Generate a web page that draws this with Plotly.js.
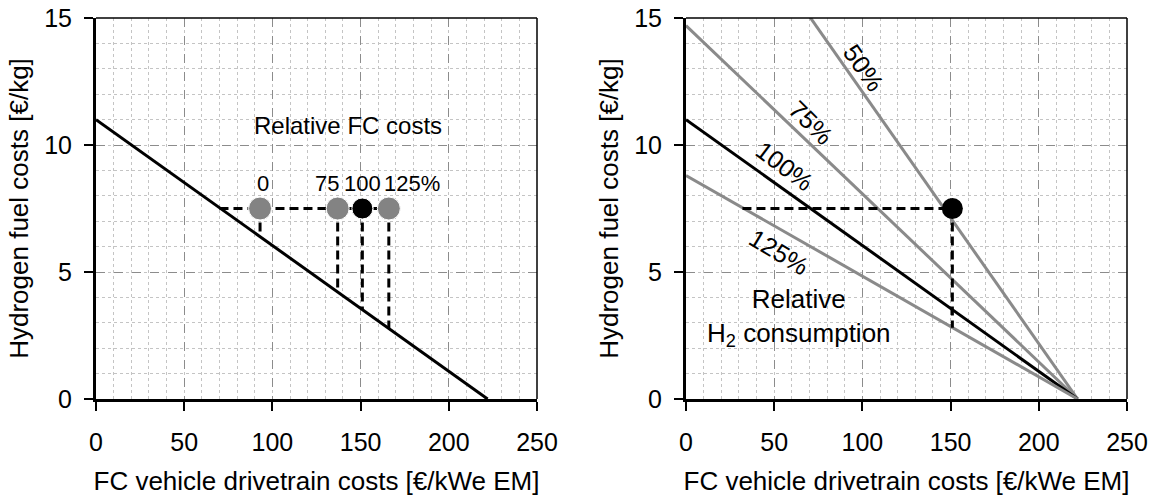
<!DOCTYPE html>
<html>
<head>
<meta charset="utf-8">
<script src="https://cdn.plot.ly/plotly-3.0.1.min.js"></script>
<style>
  html, body { margin: 0; padding: 0; background: #fff; }
  #chart { width: 1158px; height: 502px; }
</style>
</head>
<body>
<div id="chart"></div>
<script>
// ---------- data ----------
// Left panel: break-even line (hydrogen cost vs. drivetrain cost)
const baseLineX = [0, 222];
const baseLineY = [11, 0];
// Relative FC cost points (at H2 cost 7.5 €/kg)
const fcCostLabels = ["0", "75", "100", "125%"];
const fcCostX = [93, 137, 151, 166];
const fcCostY = [7.5, 7.5, 7.5, 7.5];
const fcCostLineY = [6.39, 4.21, 3.52, 2.77];   // where each drop line meets the break-even line
const fcRefLineX = [70, 166];
const fcRefLineY = [7.5, 7.5];

// Right panel: relative H2 consumption lines
const consLabels = ["50%", "75%", "100%", "125%"];
const consStartY = [22, 14.7, 11, 8.8];   // value at 0 €/kWe
const consEndX = [222, 222, 222, 222];    // all meet 0 €/kg here
const consColors = ["#8a8a8a", "#8a8a8a", "#000000", "#8a8a8a"];
const rightPointX = [151];
const rightPointY = [7.5];
const rightRefLineX = [32, 151];
const rightDropY = [7.5, 2.81];

const xTicks = [0, 50, 100, 150, 200, 250];
const yTicks = [0, 5, 10, 15];

// ---------- styling ----------
const FONT = 'Arial, "Liberation Sans", sans-serif';
const dashBlack = { color: "#000", width: 3, dash: "9px,5px" };
const traces = [];

// Left panel
traces.push({ x: fcRefLineX, y: fcRefLineY, xaxis: "x", yaxis: "y", mode: "lines", line: dashBlack, hoverinfo: "skip" });
for (let i = 0; i < fcCostX.length; i++) {
  traces.push({ x: [fcCostX[i], fcCostX[i]], y: [fcCostY[i], fcCostLineY[i]], xaxis: "x", yaxis: "y",
    mode: "lines", line: dashBlack, hoverinfo: "skip" });
}
traces.push({ x: baseLineX, y: baseLineY, xaxis: "x", yaxis: "y", mode: "lines",
  line: { color: "#000", width: 3 } });
traces.push({ x: fcCostX, y: fcCostY, xaxis: "x", yaxis: "y", mode: "markers",
  marker: { size: [23, 23, 21, 23], opacity: 1, color: ["#838383", "#838383", "#000000", "#838383"] } });

// Right panel
for (let i = 0; i < consLabels.length; i++) {
  traces.push({ x: [0, consEndX[i]], y: [consStartY[i], 0], xaxis: "x2", yaxis: "y2", mode: "lines",
    line: { color: consColors[i], width: 3 } });
}
traces.push({ x: rightRefLineX, y: [rightPointY[0], rightPointY[0]], xaxis: "x2", yaxis: "y2", mode: "lines", line: dashBlack });
traces.push({ x: [rightPointX[0], rightPointX[0]], y: rightDropY, xaxis: "x2", yaxis: "y2", mode: "lines", line: dashBlack });
traces.push({ x: rightPointX, y: rightPointY, xaxis: "x2", yaxis: "y2", mode: "markers",
  marker: { size: 21, opacity: 1, color: "#000" } });

function xAxis(domain) {
  return {
    domain: domain, range: [0, 250], tickvals: xTicks, ticks: "outside", ticklen: 9, tickwidth: 2, tickcolor: "#000",
    showline: true, linewidth: 3, linecolor: "#000", zeroline: false,
    showgrid: true, gridcolor: "#8c8c8c", gridwidth: 1, griddash: "dash",
    minor: { dtick: 10, showgrid: true, gridcolor: "#c4c4c4", gridwidth: 1, griddash: "dot", ticks: "" },
    tickfont: { family: FONT, size: 25, color: "#000" }, ticklabelstandoff: 10,
    title: { text: "FC vehicle drivetrain costs [€/kWe EM]", font: { family: FONT, size: 26, color: "#000" }, standoff: 17 },
    automargin: false, fixedrange: true
  };
}
function yAxis(anchor) {
  return {
    domain: [0, 1], range: [0, 15], tickvals: yTicks, anchor: anchor, ticks: "outside", ticklen: 9, tickwidth: 2, tickcolor: "#000",
    showline: true, linewidth: 3, linecolor: "#000", zeroline: false,
    showgrid: true, gridcolor: "#8c8c8c", gridwidth: 1, griddash: "dash",
    minor: { dtick: 1, showgrid: true, gridcolor: "#c4c4c4", gridwidth: 1, griddash: "dot", ticks: "" },
    tickfont: { family: FONT, size: 25, color: "#000" }, ticklabelstandoff: 7,
    title: { text: "Hydrogen fuel costs [€/kg]", font: { family: FONT, size: 26, color: "#000" }, standoff: 9 },
    automargin: false, fixedrange: true
  };
}

const frame = (xr, yr) => [
  { type: "line", xref: xr + " domain", yref: yr + " domain", x0: 0, x1: 1, y0: 1, y1: 1, line: { color: "#000", width: 1.5 } },
  { type: "line", xref: xr + " domain", yref: yr + " domain", x0: 1, x1: 1, y0: 0, y1: 1, line: { color: "#000", width: 1.5 } }
];

const ann = (xref, yref, x, y, text, extra, size) => Object.assign({
  xref: xref, yref: yref, x: x, y: y, text: text, showarrow: false,
  font: { family: FONT, size: size || 24, color: "#000" }
}, extra || {});

const annotations = [
  ann("x", "y", 143, 10.75, "Relative FC costs"),
  ann("x", "y", 94.4, 8.5, fcCostLabels[0], null, 22),
  ann("x", "y", 130.8, 8.5, fcCostLabels[1], null, 22),
  ann("x", "y", 151.3, 8.5, fcCostLabels[2], null, 22),
  ann("x", "y", 162.3, 8.5, fcCostLabels[3], { xanchor: "left" }, 22),
  ann("x2", "y2", 101, 13.05, consLabels[0], { textangle: 55 }, 25),
  ann("x2", "y2", 70.6, 10.89, consLabels[1], { textangle: 45 }, 25),
  ann("x2", "y2", 56, 9.19, consLabels[2], { textangle: 37 }, 25),
  ann("x2", "y2", 52.8, 5.78, consLabels[3], { textangle: 31 }, 25),
  ann("x2", "y2", 64, 3.2, "Relative<br>H<sub>2</sub> consumption", null, 26)
];

const layout = {
  width: 1158, height: 502,
  margin: { l: 0, r: 0, t: 18, b: 103 },
  paper_bgcolor: "#fff", plot_bgcolor: "#fff",
  showlegend: false,
  xaxis: Object.assign(xAxis([96 / 1158, 537 / 1158]), { anchor: "y" }),
  yaxis: yAxis("x"),
  xaxis2: Object.assign(xAxis([686 / 1158, 1127 / 1158]), { anchor: "y2" }),
  yaxis2: yAxis("x2"),
  shapes: frame("x", "y").concat(frame("x2", "y2")),
  annotations: annotations
};

Plotly.newPlot("chart", traces, layout, { displayModeBar: false, staticPlot: true });
</script>
</body>
</html>
